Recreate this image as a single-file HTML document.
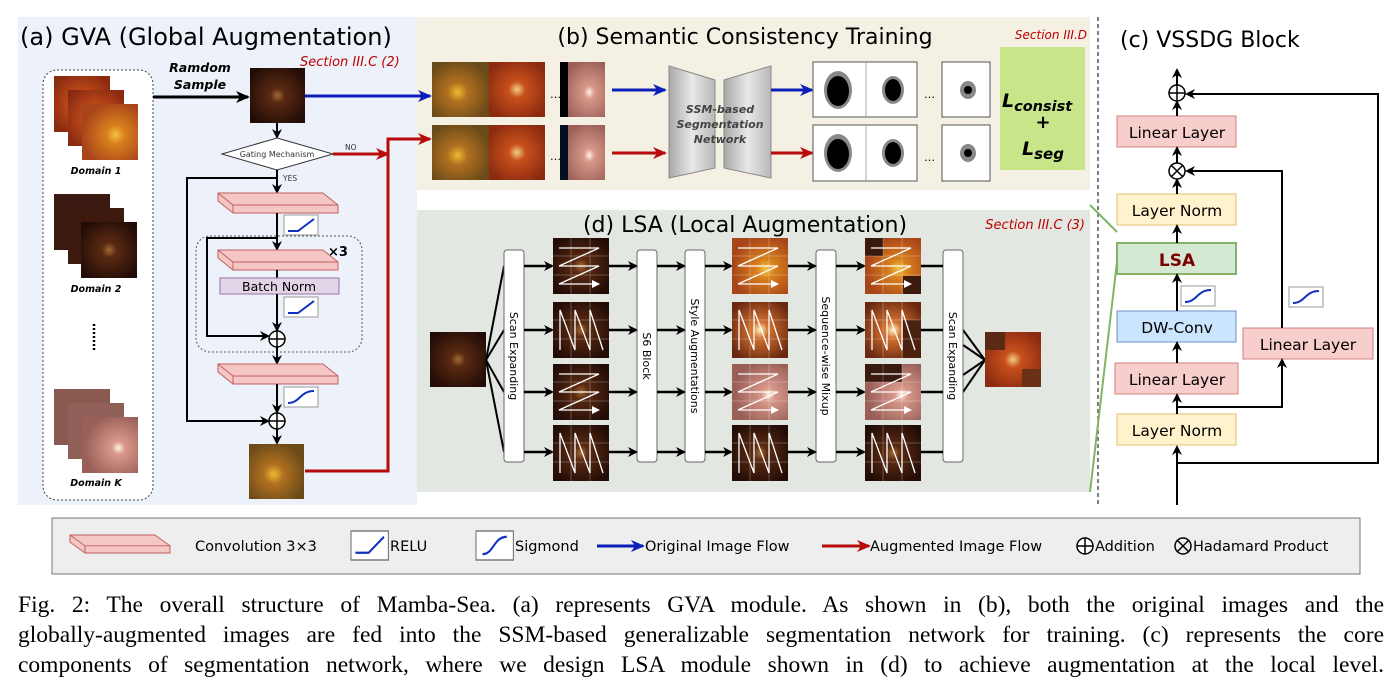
<!DOCTYPE html>
<html><head><meta charset="utf-8"><style>
body{margin:0;background:#fff;width:1394px;height:696px;overflow:hidden}
svg{position:absolute;left:0;top:0}
.t{font-family:"DejaVu Sans","Liberation Sans",sans-serif}
.cap{position:absolute;left:18px;width:1366px;font-family:"Liberation Serif",serif;font-size:23.5px;line-height:30px;text-align:justify;text-align-last:justify;color:#000;white-space:nowrap}
</style></head><body>
<svg width="1394" height="696" viewBox="0 0 1394 696" xmlns="http://www.w3.org/2000/svg">
<defs>
<radialGradient id="gDark" cx="0.5" cy="0.5" r="0.6"><stop offset="0" stop-color="#a26a35"/><stop offset="0.22" stop-color="#5a2a12"/><stop offset="1" stop-color="#220c06"/></radialGradient>
<radialGradient id="gOr" cx="0.6" cy="0.55" r="0.6"><stop offset="0" stop-color="#f3c240"/><stop offset="0.28" stop-color="#d8801c"/><stop offset="1" stop-color="#a8441a"/></radialGradient>
<radialGradient id="gRed" cx="0.5" cy="0.5" r="0.6"><stop offset="0" stop-color="#f0d080"/><stop offset="0.25" stop-color="#c8501c"/><stop offset="1" stop-color="#8a2a10"/></radialGradient>
<radialGradient id="gPink" cx="0.65" cy="0.55" r="0.6"><stop offset="0" stop-color="#fff2e0"/><stop offset="0.2" stop-color="#d8988a"/><stop offset="1" stop-color="#9a6058"/></radialGradient>
<radialGradient id="gBright" cx="0.5" cy="0.5" r="0.6"><stop offset="0" stop-color="#fff4c0"/><stop offset="0.25" stop-color="#d07030"/><stop offset="1" stop-color="#6a2810"/></radialGradient>
<radialGradient id="gOlive" cx="0.45" cy="0.55" r="0.6"><stop offset="0" stop-color="#f0b830"/><stop offset="0.3" stop-color="#b07020"/><stop offset="1" stop-color="#6a4a18"/></radialGradient>
<linearGradient id="gTrap" x1="0" x2="1"><stop offset="0" stop-color="#a8a8a8"/><stop offset="0.5" stop-color="#e8e8e8"/><stop offset="1" stop-color="#b8b8b8"/></linearGradient>
<marker id="ak" markerWidth="10" markerHeight="10" refX="8" refY="5" orient="auto" markerUnits="userSpaceOnUse"><path d="M0,0 L10,5 L0,10 L3,5z" fill="#000"/></marker>
<marker id="aw" markerWidth="8" markerHeight="8" refX="7" refY="4" orient="auto" markerUnits="userSpaceOnUse"><path d="M0,0 L8,4 L0,8z" fill="#fff"/></marker>
<marker id="ab" markerWidth="14" markerHeight="12" refX="12" refY="6" orient="auto" markerUnits="userSpaceOnUse"><path d="M0,0 L14,6 L0,12 L4,6z" fill="#0a1fb8"/></marker>
<marker id="ar" markerWidth="14" markerHeight="12" refX="12" refY="6" orient="auto" markerUnits="userSpaceOnUse"><path d="M0,0 L14,6 L0,12 L4,6z" fill="#b80a0a"/></marker>
<marker id="ak2" markerWidth="14" markerHeight="12" refX="12" refY="6" orient="auto" markerUnits="userSpaceOnUse"><path d="M0,0 L14,6 L0,12 L4,6z" fill="#000"/></marker>
<g id="relu"><rect x="0" y="0" width="34" height="20" fill="#fff" stroke="#999"/><path d="M4,16 L14,16 L30,4" stroke="#1030c0" stroke-width="2" fill="none"/></g>
<g id="sig"><rect x="0" y="0" width="34" height="20" fill="#fff" stroke="#999"/><path d="M4,16 C16,16 16,4 30,4" stroke="#1030c0" stroke-width="2" fill="none"/></g>
<g id="conv"><path d="M0,0 L105,0 L120,12 L120,20 L15,20 L0,8z" fill="#f4c6c4" stroke="#c06060"/><path d="M0,0 L15,12 L120,12 M15,12 L15,20" fill="none" stroke="#c06060"/></g>
<g id="plus"><circle r="8" fill="#fff" stroke="#000" stroke-width="1.5"/><path d="M-8,0H8M0,-8V8" stroke="#000" stroke-width="1.5"/></g>
<g id="zh"><path d="M6,10 H46 L6,28 H46 L6,46 H46" stroke="#fff" stroke-width="1.3" fill="none" marker-end="url(#aw)"/></g>
<g id="nv"><path d="M7,48 V8 L22,48 V8 L37,48 V8 L50,48" stroke="#fff" stroke-width="1.3" fill="none"/></g>
<g id="grid"><path d="M18,0V56M37,0V56M0,18H56M0,37H56" stroke="#fff" stroke-opacity="0.25"/></g>
</defs>

<rect x="18" y="17" width="399" height="488" fill="#edf1fa"/>
<rect x="417" y="17" width="673" height="173" fill="#f5f0e4"/>
<rect x="417" y="210" width="673" height="282" fill="#e2e8e1"/>
<line x1="1098" y1="17" x2="1098" y2="505" stroke="#555" stroke-dasharray="4,3" stroke-width="1.5"/>

<!-- (a) -->
<text x="20" y="45" class="t" font-size="24">(a) GVA (Global Augmentation)</text>
<text x="300" y="66" class="t" font-size="13" font-style="italic" fill="#b00">Section III.C (2)</text>
<rect x="43" y="70" width="110" height="430" rx="14" fill="#fff" stroke="#444" stroke-dasharray="2,2"/>
<rect x="54" y="76" width="56" height="56" fill="url(#gRed)"/><rect x="68" y="90" width="56" height="56" fill="url(#gRed)"/><rect x="82" y="104" width="56" height="56" fill="url(#gOr)"/>
<text x="96" y="174" class="t" font-size="9.5" font-weight="bold" font-style="italic" text-anchor="middle">Domain 1</text>
<rect x="54" y="194" width="56" height="56" fill="#3a1a10"/><rect x="68" y="208" width="56" height="56" fill="#3e1a0e"/><rect x="81" y="222" width="56" height="56" fill="url(#gDark)"/>
<text x="96" y="292" class="t" font-size="9.5" font-weight="bold" font-style="italic" text-anchor="middle">Domain 2</text>
<line x1="94" y1="324" x2="94" y2="352" stroke="#000" stroke-width="2.5" stroke-dasharray="2,2"/>
<rect x="54" y="389" width="56" height="56" fill="#8a5a50"/><rect x="68" y="403" width="56" height="56" fill="#906058"/><rect x="82" y="417" width="56" height="56" fill="url(#gPink)"/>
<text x="96" y="486" class="t" font-size="9.5" font-weight="bold" font-style="italic" text-anchor="middle">Domain K</text>
<text x="200" y="72" class="t" font-size="12.5" font-weight="bold" font-style="italic" text-anchor="middle">Ramdom</text>
<text x="200" y="89" class="t" font-size="12.5" font-weight="bold" font-style="italic" text-anchor="middle">Sample</text>
<line x1="153" y1="97" x2="248" y2="97" stroke="#000" stroke-width="3" marker-end="url(#ak2)"/>
<rect x="250" y="68" width="55" height="55" fill="url(#gDark)"/>
<line x1="305" y1="96" x2="430" y2="96" stroke="#0a1fb8" stroke-width="3" marker-end="url(#ab)"/>
<line x1="277" y1="123" x2="277" y2="137" stroke="#000" stroke-width="2" marker-end="url(#ak)"/>
<path d="M222,154 L277,138 L333,154 L277,170z" fill="#fff" stroke="#333"/>
<text x="277" y="157" class="t" font-size="8" text-anchor="middle" fill="#333">Gating Mechanism</text>
<line x1="333" y1="154" x2="388" y2="154" stroke="#b80a0a" stroke-width="3" marker-end="url(#ar)"/>
<text x="345" y="150" class="t" font-size="7.5" fill="#333">NO</text>
<path d="M305,471 H388 V139 H430" stroke="#b80a0a" stroke-width="3" fill="none" marker-end="url(#ar)"/>
<text x="283" y="181" class="t" font-size="7.5" fill="#333">YES</text>
<line x1="277" y1="170" x2="277" y2="192" stroke="#000" stroke-width="2" marker-end="url(#ak)"/>
<path d="M277,178 H187 V421 H268" stroke="#000" stroke-width="2" fill="none" marker-end="url(#ak)"/>
<use href="#conv" x="218" y="193"/>
<use href="#relu" x="284" y="215"/>
<rect x="196" y="236" width="166" height="116" rx="14" fill="none" stroke="#555" stroke-dasharray="2,2"/>
<text x="328" y="256" class="t" font-size="13" font-weight="bold">×3</text>
<line x1="277" y1="213" x2="277" y2="249" stroke="#000" stroke-width="2" marker-end="url(#ak)"/>
<use href="#conv" x="218" y="250"/>
<line x1="277" y1="270" x2="277" y2="278" stroke="#000" stroke-width="2"/>
<rect x="220" y="278" width="119" height="16" fill="#e1d5e7" stroke="#9673a6"/>
<text x="279" y="291" class="t" font-size="12.5" text-anchor="middle">Batch Norm</text>
<use href="#relu" x="284" y="297"/>
<line x1="277" y1="294" x2="277" y2="330" stroke="#000" stroke-width="2" marker-end="url(#ak)"/>
<path d="M277,238 H207 V336 H268" stroke="#000" stroke-width="2" fill="none" marker-end="url(#ak)"/>
<use href="#plus" x="277" y="339"/>
<line x1="277" y1="347" x2="277" y2="363" stroke="#000" stroke-width="2" marker-end="url(#ak)"/>
<use href="#conv" x="218" y="364"/>
<use href="#sig" x="284" y="387"/>
<line x1="277" y1="384" x2="277" y2="412" stroke="#000" stroke-width="2" marker-end="url(#ak)"/>
<use href="#plus" x="277" y="421"/>
<line x1="277" y1="429" x2="277" y2="443" stroke="#000" stroke-width="2" marker-end="url(#ak)"/>
<rect x="249" y="444" width="55" height="55" fill="url(#gOlive)"/>

<!-- (b) -->
<text x="745" y="44" class="t" font-size="22" text-anchor="middle">(b) Semantic Consistency Training</text>
<text x="1087" y="39" class="t" font-size="12" font-style="italic" fill="#b00" text-anchor="end">Section III.D</text>
<rect x="432" y="62" width="57" height="55" fill="url(#gOlive)"/><rect x="489" y="62" width="56" height="55" fill="url(#gRed)"/>
<text x="550" y="98" class="t" font-size="11">…</text>
<rect x="560" y="62" width="45" height="55" fill="url(#gPink)"/><rect x="560" y="62" width="8" height="55" fill="#000"/>
<rect x="432" y="125" width="57" height="55" fill="url(#gOlive)"/><rect x="489" y="125" width="56" height="55" fill="url(#gRed)"/>
<text x="550" y="160" class="t" font-size="11">…</text>
<rect x="560" y="125" width="45" height="55" fill="url(#gPink)"/><rect x="560" y="125" width="8" height="55" fill="#041020"/>
<line x1="612" y1="90" x2="665" y2="90" stroke="#0a1fb8" stroke-width="3" marker-end="url(#ab)"/>
<line x1="612" y1="153" x2="665" y2="153" stroke="#b80a0a" stroke-width="3" marker-end="url(#ar)"/>
<path d="M669,66 L715,80 L715,168 L669,178z" fill="url(#gTrap)" stroke="#888"/>
<path d="M724,80 L771,66 L771,178 L724,168z" fill="url(#gTrap)" stroke="#888"/>
<text x="720" y="113" class="t" font-size="11" font-weight="bold" font-style="italic" fill="#444" text-anchor="middle">SSM-based</text>
<text x="720" y="128" class="t" font-size="11" font-weight="bold" font-style="italic" fill="#444" text-anchor="middle">Segmentation</text>
<text x="720" y="143" class="t" font-size="11" font-weight="bold" font-style="italic" fill="#444" text-anchor="middle">Network</text>
<line x1="771" y1="90" x2="812" y2="90" stroke="#0a1fb8" stroke-width="3" marker-end="url(#ab)"/>
<line x1="771" y1="153" x2="812" y2="153" stroke="#b80a0a" stroke-width="3" marker-end="url(#ar)"/>
<g stroke="#555" fill="#fff"><rect x="813" y="62" width="104" height="55"/><line x1="866" y1="62" x2="866" y2="117" stroke="#aaa"/><rect x="942" y="62" width="48" height="55"/>
<rect x="813" y="125" width="104" height="56"/><line x1="866" y1="125" x2="866" y2="181" stroke="#aaa"/><rect x="942" y="125" width="48" height="56"/></g>
<text x="924" y="98" class="t" font-size="11">…</text><text x="924" y="161" class="t" font-size="11">…</text>
<g fill="#888"><ellipse cx="838" cy="90" rx="14" ry="19"/><ellipse cx="893" cy="90" rx="11" ry="14"/><ellipse cx="968" cy="90" rx="8" ry="9"/>
<ellipse cx="838" cy="153" rx="14" ry="19"/><ellipse cx="893" cy="153" rx="11" ry="14"/><ellipse cx="968" cy="153" rx="8" ry="9"/></g>
<g fill="#000"><ellipse cx="838" cy="91" rx="11" ry="15"/><ellipse cx="893" cy="90" rx="8" ry="11"/><ellipse cx="968" cy="90" rx="4" ry="4"/>
<ellipse cx="838" cy="154" rx="11" ry="15"/><ellipse cx="893" cy="153" rx="8" ry="11"/><ellipse cx="968" cy="153" rx="4" ry="4"/></g>
<rect x="1000" y="47" width="85" height="123" fill="#c8e58a"/>
<text x="1002" y="107" class="t" font-size="19" font-weight="bold" font-style="italic">L<tspan font-size="14.5" dy="4">consist</tspan></text>
<text x="1043" y="128" class="t" font-size="18" font-weight="bold" text-anchor="middle">+</text>
<text x="1022" y="155" class="t" font-size="19" font-weight="bold" font-style="italic">L<tspan font-size="15" dy="4">seg</tspan></text>

<!-- (d) -->
<text x="745" y="232" class="t" font-size="22" text-anchor="middle">(d) LSA (Local Augmentation)</text>
<text x="1085" y="229" class="t" font-size="13" font-style="italic" fill="#b00" text-anchor="end">Section III.C (3)</text>
<rect x="430" y="332" width="56" height="55" fill="url(#gDark)"/>
<g stroke="#000" stroke-width="2"><line x1="486" y1="360" x2="504" y2="266"/><line x1="486" y1="360" x2="504" y2="330"/><line x1="486" y1="360" x2="504" y2="392"/><line x1="486" y1="360" x2="504" y2="452"/>
<line x1="963" y1="330" x2="985" y2="360"/><line x1="963" y1="392" x2="985" y2="360"/><line x1="963" y1="345" x2="985" y2="360"/><line x1="963" y1="375" x2="985" y2="360"/></g>
<g fill="#fff" stroke="#666"><rect x="504" y="250" width="20" height="212" rx="3"/><rect x="637" y="250" width="20" height="212" rx="3"/><rect x="685" y="250" width="20" height="212" rx="3"/><rect x="816" y="250" width="20" height="212" rx="3"/><rect x="943" y="250" width="20" height="212" rx="3"/></g>
<g class="t" font-size="11" text-anchor="middle">
<text transform="translate(510,356) rotate(90)">Scan Expanding</text>
<text transform="translate(643,356) rotate(90)">S6 Block</text>
<text transform="translate(691,356) rotate(90)">Style Augmentations</text>
<text transform="translate(822,356) rotate(90)">Sequence-wise Mixup</text>
<text transform="translate(949,356) rotate(90)">Scan Expanding</text></g>
<g stroke="#000" stroke-width="2.5">
<line x1="524" y1="266" x2="552" y2="266" marker-end="url(#ak)"/><line x1="524" y1="330" x2="552" y2="330" marker-end="url(#ak)"/><line x1="524" y1="392" x2="552" y2="392" marker-end="url(#ak)"/><line x1="524" y1="452" x2="552" y2="452" marker-end="url(#ak)"/>
<line x1="609" y1="266" x2="636" y2="266" marker-end="url(#ak)"/><line x1="609" y1="330" x2="636" y2="330" marker-end="url(#ak)"/><line x1="609" y1="392" x2="636" y2="392" marker-end="url(#ak)"/><line x1="609" y1="452" x2="636" y2="452" marker-end="url(#ak)"/>
<line x1="657" y1="266" x2="684" y2="266" marker-end="url(#ak)"/><line x1="657" y1="330" x2="684" y2="330" marker-end="url(#ak)"/><line x1="657" y1="392" x2="684" y2="392" marker-end="url(#ak)"/><line x1="657" y1="452" x2="684" y2="452" marker-end="url(#ak)"/>
<line x1="705" y1="266" x2="731" y2="266" marker-end="url(#ak)"/><line x1="705" y1="330" x2="731" y2="330" marker-end="url(#ak)"/><line x1="705" y1="392" x2="731" y2="392" marker-end="url(#ak)"/><line x1="705" y1="452" x2="731" y2="452" marker-end="url(#ak)"/>
<line x1="788" y1="266" x2="815" y2="266" marker-end="url(#ak)"/><line x1="788" y1="330" x2="815" y2="330" marker-end="url(#ak)"/><line x1="788" y1="392" x2="815" y2="392" marker-end="url(#ak)"/><line x1="788" y1="452" x2="815" y2="452" marker-end="url(#ak)"/>
<line x1="836" y1="266" x2="864" y2="266" marker-end="url(#ak)"/><line x1="836" y1="330" x2="864" y2="330" marker-end="url(#ak)"/><line x1="836" y1="392" x2="864" y2="392" marker-end="url(#ak)"/><line x1="836" y1="452" x2="864" y2="452" marker-end="url(#ak)"/>
<line x1="920" y1="266" x2="943" y2="266"/><line x1="920" y1="330" x2="943" y2="330"/><line x1="920" y1="392" x2="943" y2="392"/><line x1="920" y1="452" x2="943" y2="452"/>
</g>
<g>
<rect x="553" y="238" width="56" height="56" fill="url(#gDark)"/><rect x="553" y="302" width="56" height="56" fill="url(#gDark)"/><rect x="553" y="364" width="56" height="56" fill="url(#gDark)"/><rect x="553" y="425" width="56" height="56" fill="url(#gDark)"/>
<rect x="732" y="238" width="56" height="56" fill="url(#gOr)"/><rect x="732" y="302" width="56" height="56" fill="url(#gBright)"/><rect x="732" y="364" width="56" height="56" fill="url(#gPink)"/><rect x="732" y="425" width="56" height="56" fill="url(#gDark)"/>
<rect x="865" y="238" width="56" height="56" fill="url(#gOr)"/><rect x="865" y="238" width="18" height="18" fill="#3a1a0c"/><rect x="903" y="276" width="18" height="18" fill="#3a1a0c"/>
<rect x="865" y="302" width="56" height="56" fill="url(#gBright)"/><rect x="903" y="320" width="18" height="38" fill="#4a200e"/>
<rect x="865" y="364" width="56" height="56" fill="url(#gPink)"/><rect x="865" y="364" width="37" height="18" fill="#3a1a10"/>
<rect x="865" y="425" width="56" height="56" fill="url(#gDark)"/>
</g>
<use href="#grid" x="553" y="238"/><use href="#grid" x="553" y="302"/><use href="#grid" x="553" y="364"/><use href="#grid" x="553" y="425"/>
<use href="#grid" x="732" y="238"/><use href="#grid" x="732" y="302"/><use href="#grid" x="732" y="364"/><use href="#grid" x="732" y="425"/>
<use href="#grid" x="865" y="238"/><use href="#grid" x="865" y="302"/><use href="#grid" x="865" y="364"/><use href="#grid" x="865" y="425"/>
<use href="#zh" x="553" y="238"/><use href="#nv" x="553" y="302"/><use href="#zh" x="553" y="364"/><use href="#nv" x="553" y="425"/>
<use href="#zh" x="732" y="238"/><use href="#nv" x="732" y="302"/><use href="#zh" x="732" y="364"/><use href="#nv" x="732" y="425"/>
<use href="#zh" x="865" y="238"/><use href="#nv" x="865" y="302"/><use href="#zh" x="865" y="364"/><use href="#nv" x="865" y="425"/>
<rect x="985" y="332" width="56" height="55" fill="url(#gRed)"/><rect x="985" y="332" width="20" height="18" fill="#5a2a14"/><rect x="1022" y="369" width="19" height="18" fill="#6a3018"/>

<path d="M1090,205 L1117,232 M1117,262 L1090,492" stroke="#82b366" stroke-width="2" fill="none"/>

<!-- (c) -->
<text x="1120" y="47" class="t" font-size="22">(c) VSSDG Block</text>
<g class="t" font-size="15.5" text-anchor="middle">
<rect x="1117" y="116" width="119" height="31" fill="#f8cecc" stroke="#d08080"/><text x="1177" y="138">Linear Layer</text>
<rect x="1117" y="194" width="119" height="31" fill="#fff2cc" stroke="#e0c070"/><text x="1177" y="216">Layer Norm</text>
<rect x="1117" y="243" width="119" height="31" fill="#d5e8d4" stroke="#82b366" stroke-width="2"/><text x="1177" y="266" font-weight="bold" fill="#7a0000" font-size="17">LSA</text>
<rect x="1117" y="311" width="119" height="31" fill="#cce5ff" stroke="#7090c0"/><text x="1177" y="333">DW-Conv</text>
<rect x="1115" y="363" width="123" height="31" fill="#f8cecc" stroke="#d08080"/><text x="1177" y="385">Linear Layer</text>
<rect x="1117" y="414" width="119" height="31" fill="#fff2cc" stroke="#e0c070"/><text x="1177" y="436">Layer Norm</text>
<rect x="1243" y="328" width="130" height="31" fill="#f8cecc" stroke="#d08080"/><text x="1308" y="350">Linear Layer</text>
</g>
<use href="#sig" x="1181" y="286"/><use href="#sig" x="1289" y="287"/>
<g stroke="#000" stroke-width="2" fill="none">
<line x1="1177" y1="505" x2="1177" y2="447" marker-end="url(#ak)"/>
<path d="M1177,463 H1378 V94 H1187" marker-end="url(#ak)"/>
<line x1="1177" y1="414" x2="1177" y2="395" marker-end="url(#ak)"/>
<path d="M1177,407 H1282 V360" marker-end="url(#ak)"/>
<line x1="1177" y1="363" x2="1177" y2="343" marker-end="url(#ak)"/>
<line x1="1177" y1="311" x2="1177" y2="275" marker-end="url(#ak)"/>
<line x1="1177" y1="243" x2="1177" y2="226" marker-end="url(#ak)"/>
<line x1="1177" y1="194" x2="1177" y2="180" marker-end="url(#ak)"/>
<path d="M1282,328 V171 H1187" marker-end="url(#ak)"/>
<line x1="1177" y1="163" x2="1177" y2="148" marker-end="url(#ak)"/>
<line x1="1177" y1="116" x2="1177" y2="102" marker-end="url(#ak)"/>
<line x1="1177" y1="85" x2="1177" y2="70" marker-end="url(#ak)"/>
</g>
<use href="#plus" x="1177" y="93"/>
<g><circle cx="1177" cy="171" r="8" fill="#fff" stroke="#000" stroke-width="1.5"/><path d="M1171.5,165.5L1182.5,176.5M1182.5,165.5L1171.5,176.5" stroke="#000" stroke-width="1.5"/></g>

<!-- legend -->
<rect x="52" y="518" width="1308" height="56" fill="#eeeeee" stroke="#777"/>
<g transform="translate(70,535) scale(1,0.9)"><path d="M0,0 L85,0 L100,12 L100,20 L15,20 L0,8z" fill="#f4c6c4" stroke="#c06060"/><path d="M0,0 L15,12 L100,12 M15,12 L15,20" fill="none" stroke="#c06060"/></g>
<g class="t" font-size="14.5">
<text x="195" y="551">Convolution 3×3</text>
<g transform="translate(351,531) scale(1.1,1.45)"><rect x="0" y="0" width="34" height="20" fill="#fff" stroke="#777"/><path d="M4,15 L16,15 L30,4" stroke="#1030c0" stroke-width="1.6" fill="none"/></g>
<text x="390" y="551">RELU</text>
<g transform="translate(476,531) scale(1.1,1.45)"><rect x="0" y="0" width="34" height="20" fill="#fff" stroke="#777"/><path d="M6,16 C16,16 16,4 28,4" stroke="#1030c0" stroke-width="1.6" fill="none"/></g>
<text x="515" y="551">Sigmond</text>
<line x1="597" y1="546" x2="643" y2="546" stroke="#0a1fb8" stroke-width="3" marker-end="url(#ab)"/>
<text x="645" y="551">Original Image Flow</text>
<line x1="822" y1="546" x2="869" y2="546" stroke="#b80a0a" stroke-width="3" marker-end="url(#ar)"/>
<text x="870" y="551">Augmented Image Flow</text>
<text x="1095" y="551">Addition</text>
<text x="1193" y="551">Hadamard Product</text>
</g>
<use href="#plus" x="1085" y="546"/>
<g><circle cx="1183" cy="546" r="8" fill="none" stroke="#000" stroke-width="1.5"/><path d="M1177.5,540.5L1188.5,551.5M1188.5,540.5L1177.5,551.5" stroke="#000" stroke-width="1.5"/></g>
</svg>
<div class="cap" style="top:590px">Fig. 2: The overall structure of Mamba-Sea. (a) represents GVA module. As shown in (b), both the original images and the</div>
<div class="cap" style="top:620px">globally-augmented images are fed into the SSM-based generalizable segmentation network for training. (c) represents the core</div>
<div class="cap" style="top:650px">components of segmentation network, where we design LSA module shown in (d) to achieve augmentation at the local level.</div>
</body></html>
